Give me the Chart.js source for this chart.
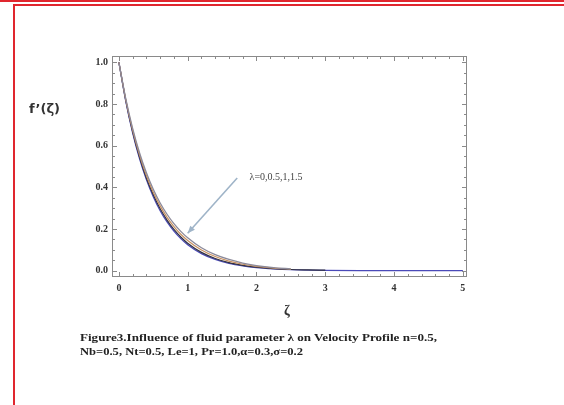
<!DOCTYPE html>
<html><head><meta charset="utf-8">
<script src="https://cdn.jsdelivr.net/npm/chart.js@4.4.1/dist/chart.umd.min.js"></script>
<style>
html,body{margin:0;padding:0;background:#fff;}
#wrap{position:relative;width:564px;height:405px;overflow:hidden;}
canvas{position:absolute;left:0;top:0;}
.r{position:absolute;background:#e0262e;}
.t{position:absolute;white-space:nowrap;color:#222;transform-origin:0 0;}
</style></head><body>
<div id="wrap">
<canvas id="c" width="564" height="405"></canvas>
<div class="r" style="left:0;top:0;width:564px;height:2px;"></div>
<div class="r" style="left:13px;top:4px;width:551px;height:2px;"></div>
<div class="r" style="left:13px;top:4px;width:2px;height:401px;"></div>
<div class="t" style="left:29px;top:101px;font:bold 13px 'DejaVu Sans',sans-serif;color:#333;">f’(ζ)</div>
<div class="t" style="left:284px;top:303px;font:bold 14px 'Liberation Serif',serif;color:#333;">ζ</div>
<div class="t cap" data-w="357" style="left:80px;top:332px;font:bold 10px 'Liberation Serif',serif;">Figure3.Influence of fluid parameter λ on Velocity Profile n=0.5,</div>
<div class="t cap" data-w="223" style="left:80px;top:346px;font:bold 10px 'Liberation Serif',serif;">Nb=0.5, Nt=0.5, Le=1, Pr=1.0,α=0.3,σ=0.2</div>
</div>
<script>
const zeta = [0,0.1,0.2,0.3,0.4,0.5,0.6,0.7,0.8,0.9,1.0,1.2,1.4,1.6,1.8,2.0,2.25,2.5,2.75,3.0,3.5,4.0,4.5,5.0];
const fBlue   = [1,0.814,0.662,0.538,0.437,0.355,0.288,0.234,0.190,0.154,0.125,0.082,0.054,0.035,0.023,0.015,0.009,0.005,0.003,0.002,0.001,0.0005,0.0002,0.0001];
const fBlack  = [1,0.817,0.667,0.545,0.445,0.364,0.297,0.243,0.198,0.162,0.132,0.088,0.059,0.039,0.026,0.017,0.010,0.006,0.004,0.0025];
const fOrange = [1,0.821,0.675,0.555,0.457,0.377,0.311,0.256,0.212,0.175,0.145,0.099,0.068,0.046,0.031,0.021,0.013,0.008];
const fGray   = [1,0.825,0.683,0.566,0.470,0.391,0.325,0.271,0.226,0.189,0.158,0.110,0.077,0.054,0.037,0.025,0.015,0.009];
const seriesNames = ['λ=0','λ=0.5','λ=1','λ=1.5'];
const xTicks = [0,1,2,3,4,5];
const yTicks = [0,0.2,0.4,0.6,0.8,1.0];
const annotText = 'λ=0,0.5,1,1.5';
const annotArrow = {x1:1.72,y1:0.445,x2:1.0,y2:0.18,tx:1.9,ty:0.45};

function pts(vals){return vals.map((v,i)=>({x:zeta[i],y:v}));}

document.querySelectorAll('.cap').forEach(el=>{
  const w=el.getBoundingClientRect().width;
  el.style.transform='scaleX('+(Number(el.dataset.w)/w)+')';
});

const framePlugin = {
  id:'frame',
  afterDatasetsDraw(chart){
    const {ctx, chartArea:a, scales:{x,y}} = chart;
    ctx.save();
    ctx.strokeStyle='#8a8a8a'; ctx.lineWidth=1;
    ctx.strokeRect(a.left+0.5,a.top+0.5,a.right-a.left-1,a.bottom-a.top-1);
    for(let v=0; v<=5.0001; v+=0.2){
      const px=Math.round(x.getPixelForValue(v))+0.5;
      const major = Math.abs(v-Math.round(v))<1e-6;
      const L = major?5:3;
      ctx.beginPath();
      ctx.moveTo(px,a.bottom); ctx.lineTo(px,a.bottom-L);
      ctx.moveTo(px,a.top); ctx.lineTo(px,a.top+L);
      ctx.stroke();
    }
    for(let v=0; v<=1.0001; v+=0.05){
      const py=Math.round(y.getPixelForValue(v))+0.5;
      const major = Math.abs(v*5-Math.round(v*5))<1e-6;
      const L = major?5:3;
      ctx.beginPath();
      ctx.moveTo(a.left,py); ctx.lineTo(a.left+L,py);
      ctx.moveTo(a.right,py); ctx.lineTo(a.right-L,py);
      ctx.stroke();
    }
    const x1=x.getPixelForValue(annotArrow.x1), y1=y.getPixelForValue(annotArrow.y1);
    const x2=x.getPixelForValue(annotArrow.x2), y2=y.getPixelForValue(annotArrow.y2);
    ctx.strokeStyle='#9fb4c8'; ctx.fillStyle='#9fb4c8'; ctx.lineWidth=1.6;
    ctx.beginPath(); ctx.moveTo(x1,y1); ctx.lineTo(x2,y2); ctx.stroke();
    const ang=Math.atan2(y2-y1,x2-x1);
    ctx.beginPath();
    ctx.moveTo(x2,y2);
    ctx.lineTo(x2-8*Math.cos(ang-0.4),y2-8*Math.sin(ang-0.4));
    ctx.lineTo(x2-8*Math.cos(ang+0.4),y2-8*Math.sin(ang+0.4));
    ctx.closePath(); ctx.fill();
    ctx.fillStyle='#444'; ctx.font='10px "Liberation Serif", serif';
    ctx.textBaseline='middle';
    ctx.fillText(annotText, x.getPixelForValue(annotArrow.tx), y.getPixelForValue(annotArrow.ty));
    ctx.restore();
  }
};

new Chart(document.getElementById('c'),{
  type:'line',
  data:{datasets:[
    {label:seriesNames[3],data:pts(fGray),borderColor:'#8c8a9a',borderWidth:1.3},
    {label:seriesNames[2],data:pts(fOrange),borderColor:'#c89060',borderWidth:1.2},
    {label:seriesNames[1],data:pts(fBlack),borderColor:'#333340',borderWidth:1.2},
    {label:seriesNames[0],data:pts(fBlue),borderColor:'#4a4ab8',borderWidth:1.3}
  ]},
  options:{
    responsive:false, animation:false,
    parsing:false,
    elements:{point:{radius:0},line:{tension:0.4,cubicInterpolationMode:'monotone'}},
    layout:{padding:{left:60,right:97,top:56,bottom:108}},
    plugins:{legend:{display:false},tooltip:{enabled:false}},
    scales:{
      x:{type:'linear',min:-0.1,max:5.06,
        afterFit(s){s.height=20;},
        afterBuildTicks(s){s.ticks=xTicks.map(v=>({value:v}));},
        grid:{display:false,drawTicks:false},border:{display:false},
        ticks:{padding:5,color:'#333',font:{family:'Liberation Serif',size:10,weight:'bold'},callback:v=>String(v)}},
      y:{type:'linear',min:-0.03,max:1.03,
        afterFit(s){s.width=52;},
        afterBuildTicks(s){s.ticks=yTicks.map(v=>({value:v}));},
        grid:{display:false,drawTicks:false},border:{display:false},
        ticks:{padding:4,color:'#333',font:{family:'Liberation Serif',size:10,weight:'bold'},callback:v=>Number(v).toFixed(1)}}
    }
  },
  plugins:[framePlugin]
});
</script>
</body></html>
